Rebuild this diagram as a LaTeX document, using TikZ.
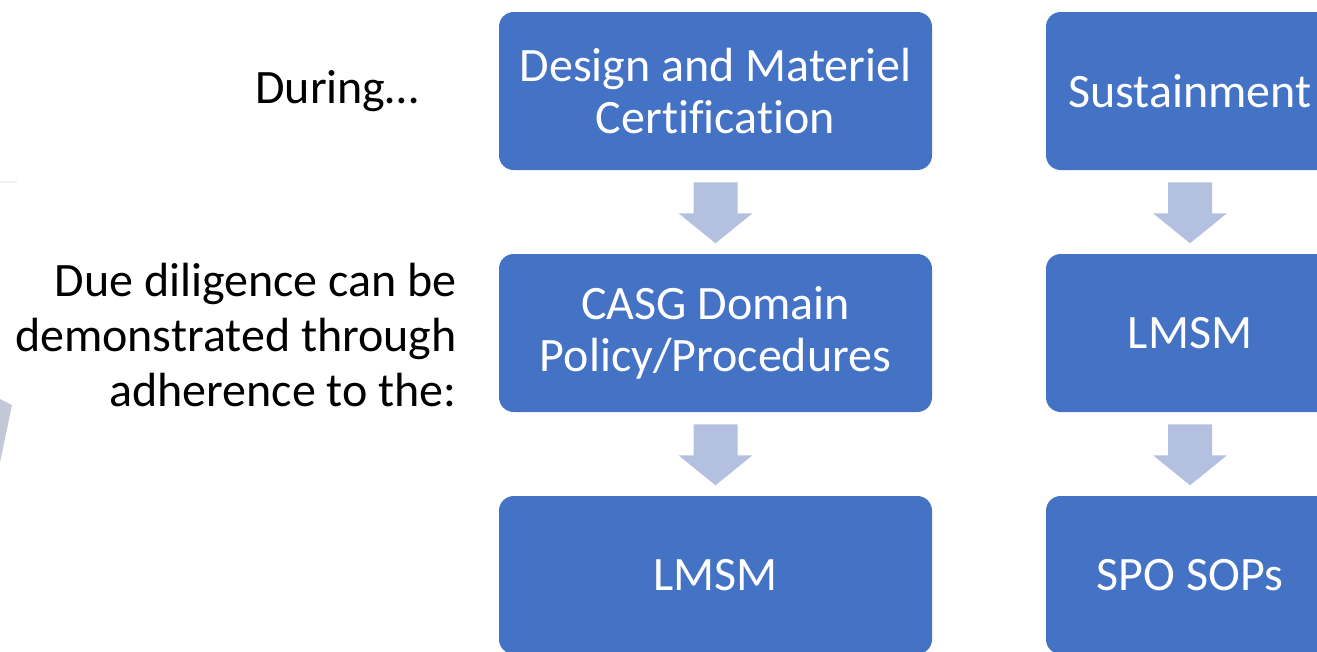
\documentclass[tikz,border=0pt]{standalone}
\usepackage{fontspec}
\setmainfont{Carlito}[RawFeature={-liga}]
\usetikzlibrary{calc}
\definecolor{boxblue}{HTML}{4472C4}
\definecolor{arrowblue}{HTML}{B3C0E0}
\definecolor{greypatch}{HTML}{C3C8D6}
\tikzset{
  stepbox/.style={rectangle, rounded corners=11pt, fill=boxblue, text=white,
    minimum height=158*0.75pt, align=center, inner sep=0pt,
    font=\fontsize{36}{39}\selectfont},
  widebox/.style={stepbox, minimum width=433*0.75pt},
  narrowbox/.style={stepbox, minimum width=288*0.75pt},
  sidetext/.style={anchor=east, align=right, text=black, inner sep=0pt,
    font=\fontsize{36}{41.25}\selectfont},
  downarrow/.pic={\fill[arrowblue] (-22,0) -- (22,0) -- (22,31) -- (37,31) -- (0,61) -- (-37,31) -- (-22,31) -- cycle;}
}
\begin{document}
\begin{tikzpicture}[x=0.75pt,y=-0.75pt]
\useasboundingbox (0,0) rectangle (1317,651);
\clip (0,0) rectangle (1317,651);
% faint remnants at left edge
\draw[black!5, line width=0.8pt] (0,182) -- (17,182);
\fill[greypatch] (0,399) -- (12,405) -- (3,448) -- (0,462) -- cycle;
% left column
\node[widebox] (b1) at (715.5,91) {Design and Materiel\\Certification};
\node[widebox] (b2) at (715.5,333) {CASG Domain\\Policy/Procedures};
\node[widebox] (b3) at (715.5,575) {LMSM};
% right column
\node[narrowbox] (c1) at (1190,91) {Sustainment};
\node[narrowbox] (c2) at (1190,333) {LMSM};
\node[narrowbox] (c3) at (1190,575) {SPO SOPs};
% arrows
\pic at ($(b1.south)+(0,12)$) {downarrow};
\pic at ($(b2.south)+(0,12)$) {downarrow};
\pic at ($(c1.south)+(0,12)$) {downarrow};
\pic at ($(c2.south)+(0,12)$) {downarrow};
% side texts
\node[sidetext] (t1) at (419,91) {During…};
\node[sidetext] (t2) at (457,335) {Due diligence can be\\demonstrated through\\adherence to the:};
\end{tikzpicture}
\end{document}
